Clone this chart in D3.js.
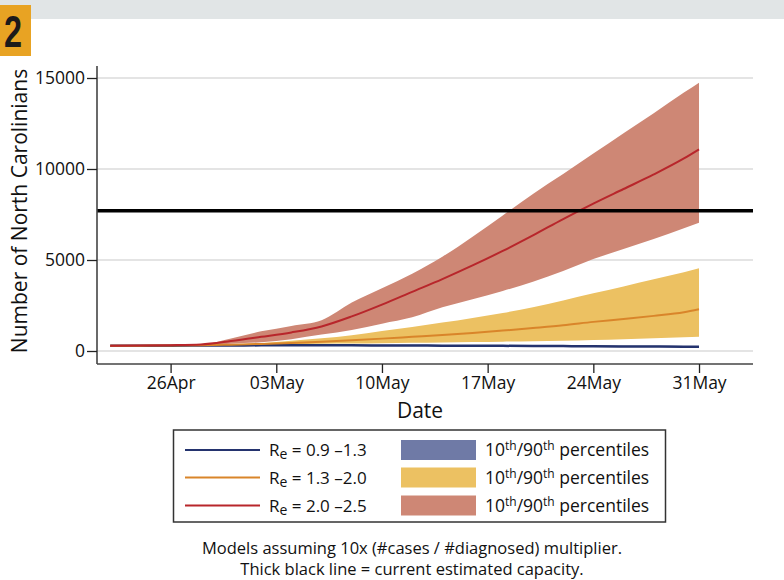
<!DOCTYPE html>
<meta charset="utf-8">
<style>
body { margin: 0; background: #fff; }
svg text { font-family: "Open Sans", sans-serif; fill: #111; }
</style>
<body>
<script src="https://cdn.jsdelivr.net/npm/d3@7/dist/d3.min.js"></script>
<script>

var dates = ["2020-04-22","2020-04-24","2020-04-26","2020-04-28","2020-04-30",
             "2020-05-02","2020-05-04","2020-05-06","2020-05-08","2020-05-10",
             "2020-05-12","2020-05-14","2020-05-16","2020-05-18","2020-05-20",
             "2020-05-22","2020-05-24","2020-05-26","2020-05-28","2020-05-30","2020-05-31"];

var redHi  = [290,300,320,360,690,1080,1380,1690,2660,3450,4250,5180,6280,7450,8630,9720,10850,11970,13070,14200,14745];
var redMid = [290,300,320,360,546,777,1020,1350,1900,2550,3250,3950,4700,5500,6350,7250,8100,8900,9700,10580,11081];
var redLo  = [290,300,310,330,400,480,650,900,1150,1500,1850,2400,2850,3300,3800,4390,5050,5600,6150,6750,7050];

var yelHi  = [290,295,300,320,360,430,560,700,870,1100,1320,1560,1820,2090,2400,2780,3170,3550,3940,4330,4543];
var yelMid = [290,295,300,315,350,390,440,510,590,680,780,880,990,1120,1260,1410,1600,1760,1930,2130,2289];
var yelLo  = [290,292,295,300,310,330,360,395,410,430,450,470,490,513,540,570,610,650,700,750,787];

var bluHi  = [320,322,325,330,336,342,345,346,345,341,337,332,327,320,313,305,297,290,283,277,275];
var bluMid = [290,292,295,300,305,310,312,312,310,305,300,295,290,283,276,268,260,253,246,240,238];
var bluLo  = [262,264,266,270,274,278,280,280,278,273,268,263,258,251,244,236,228,221,214,208,205];

var capacity = 7700;
var yTicks = [0, 5000, 10000, 15000];
var xTicks = ["2020-04-26","2020-05-03","2020-05-10","2020-05-17","2020-05-24","2020-05-31"];

var legendRows = [
  {label: " = 0.9 \u20131.3", line: "#24336e", band: "#6f7aa6"},
  {label: " = 1.3 \u20132.0", line: "#d9852a", band: "#ecc162"},
  {label: " = 2.0 \u20132.5", line: "#b8262b", band: "#ce8775"}
];

var parse = d3.timeParse("%Y-%m-%d");
var W = 784, H = 580;

var svg = d3.select("body").append("svg")
    .attr("width", W)
    .attr("height", H);

// header strip and panel number
svg.append("rect").attr("x", 0).attr("y", 0).attr("width", W).attr("height", 19).attr("fill", "#e1e5e6");
svg.append("rect").attr("x", 0).attr("y", 5).attr("width", 31).attr("height", 51).attr("fill", "#e8a323");
svg.append("text")
    .attr("transform", "translate(13,47) scale(0.72,1)")
    .attr("text-anchor", "middle")
    .style("font-family", "Liberation Sans, Arial, sans-serif")
    .style("font-weight", "bold")
    .style("font-size", "45px")
    .style("fill", "#1c1a1a")
    .text("2");

var x = d3.scaleTime()
    .domain([new Date(2020, 3, 21, 3), new Date(2020, 5, 3, 17)])
    .range([97, 755]);

var y = d3.scaleLinear()
    .domain([0, 5000])
    .range([351, 260]);

var plotTop = 66, plotBottom = 364, plotLeft = 97, plotRight = 753;

// grid
svg.append("g").selectAll("line")
    .data(yTicks)
    .enter().append("line")
    .attr("x1", plotLeft).attr("x2", plotRight)
    .attr("y1", function(d) { return y(d); })
    .attr("y2", function(d) { return y(d); })
    .attr("stroke", "#e4e4e4")
    .attr("stroke-width", 2);

var rows = dates.map(function(d, i) {
  return {date: parse(d),
          rh: redHi[i], rm: redMid[i], rl: redLo[i],
          yh: yelHi[i], ym: yelMid[i], yl: yelLo[i],
          bh: bluHi[i], bm: bluMid[i], bl: bluLo[i]};
});

function band(hi, lo) {
  return d3.area()
    .curve(d3.curveMonotoneX)
    .x(function(d) { return x(d.date); })
    .y0(function(d) { return y(d[lo]); })
    .y1(function(d) { return y(d[hi]); });
}
function line(k) {
  return d3.line()
    .curve(d3.curveMonotoneX)
    .x(function(d) { return x(d.date); })
    .y(function(d) { return y(d[k]); });
}

svg.append("path").datum(rows).attr("d", band("rh", "rl")).attr("fill", legendRows[2].band);
svg.append("path").datum(rows).attr("d", band("yh", "yl")).attr("fill", legendRows[1].band);
svg.append("path").datum(rows).attr("d", band("bh", "bl")).attr("fill", legendRows[0].band);

svg.append("path").datum(rows).attr("d", line("bm"))
    .attr("fill", "none").attr("stroke", legendRows[0].line).attr("stroke-width", 2.5);
svg.append("path").datum(rows).attr("d", line("ym"))
    .attr("fill", "none").attr("stroke", legendRows[1].line).attr("stroke-width", 2);
svg.append("path").datum(rows).attr("d", line("rm"))
    .attr("fill", "none").attr("stroke", legendRows[2].line).attr("stroke-width", 2);

// capacity line
svg.append("line")
    .attr("x1", plotLeft).attr("x2", plotRight)
    .attr("y1", y(capacity)).attr("y2", y(capacity))
    .attr("stroke", "#000").attr("stroke-width", 3.5);

// axes
var yAxis = svg.append("g")
    .attr("transform", "translate(" + plotLeft + ",0)")
    .call(d3.axisLeft(y).tickValues(yTicks).tickSize(10).tickPadding(2).tickFormat(d3.format("d")));
yAxis.select(".domain").attr("d", "M0," + plotTop + "V" + plotBottom);

var xAxis = svg.append("g")
    .attr("transform", "translate(0," + plotBottom + ")")
    .call(d3.axisBottom(x).tickValues(xTicks.map(parse)).tickSize(9).tickPadding(4)
      .tickFormat(d3.timeFormat("%d%b")));
xAxis.select(".domain").attr("d", "M" + plotLeft + ",0H" + plotRight);

svg.selectAll(".domain").attr("stroke", "#444").attr("stroke-width", 1.6);
svg.selectAll(".tick line").attr("stroke", "#222").attr("stroke-width", 1.3);
svg.selectAll(".tick text")
    .style("font-family", "Open Sans, sans-serif")
    .style("font-size", "17.5px")
    .attr("fill", "#111");

svg.append("text")
    .attr("transform", "translate(27,211) rotate(-90)")
    .attr("text-anchor", "middle")
    .style("font-size", "21px")
    .text("Number of North Carolinians");

svg.append("text")
    .attr("x", 420).attr("y", 418)
    .attr("text-anchor", "middle")
    .style("font-size", "21px")
    .text("Date");

// legend
var lg = svg.append("g");
lg.append("rect")
    .attr("x", 173.5).attr("y", 430).attr("width", 492).attr("height", 92)
    .attr("fill", "#fff").attr("stroke", "#333").attr("stroke-width", 1.5);

var rowY = [450, 477.5, 505.5];
legendRows.forEach(function(r, i) {
  var cy = rowY[i];
  lg.append("line")
      .attr("x1", 185).attr("x2", 260).attr("y1", cy).attr("y2", cy)
      .attr("stroke", r.line).attr("stroke-width", 2);
  var t = lg.append("text").attr("x", 269).attr("y", cy + 6).style("font-size", "17px");
  t.append("tspan").text("R");
  t.append("tspan").attr("dy", 3).style("font-size", "14px").text("e");
  t.append("tspan").attr("dy", -3).text(r.label);

  lg.append("rect")
      .attr("x", 401).attr("y", cy - 10).attr("width", 75).attr("height", 20)
      .attr("fill", r.band);
  var p = lg.append("text").attr("x", 485).attr("y", cy + 6).style("font-size", "17.5px");
  p.append("tspan").text("10");
  p.append("tspan").attr("dy", -6).style("font-size", "12px").text("th");
  p.append("tspan").attr("dy", 6).text("/90");
  p.append("tspan").attr("dy", -6).style("font-size", "12px").text("th");
  p.append("tspan").attr("dy", 6).text(" percentiles");
});

svg.append("text")
    .attr("x", 412).attr("y", 554)
    .attr("text-anchor", "middle")
    .style("font-size", "16.5px")
    .text("Models assuming 10x (#cases / #diagnosed) multiplier.");
svg.append("text")
    .attr("x", 412).attr("y", 575)
    .attr("text-anchor", "middle")
    .style("font-size", "16.5px")
    .text("Thick black line = current estimated capacity.");

</script>
</body>
